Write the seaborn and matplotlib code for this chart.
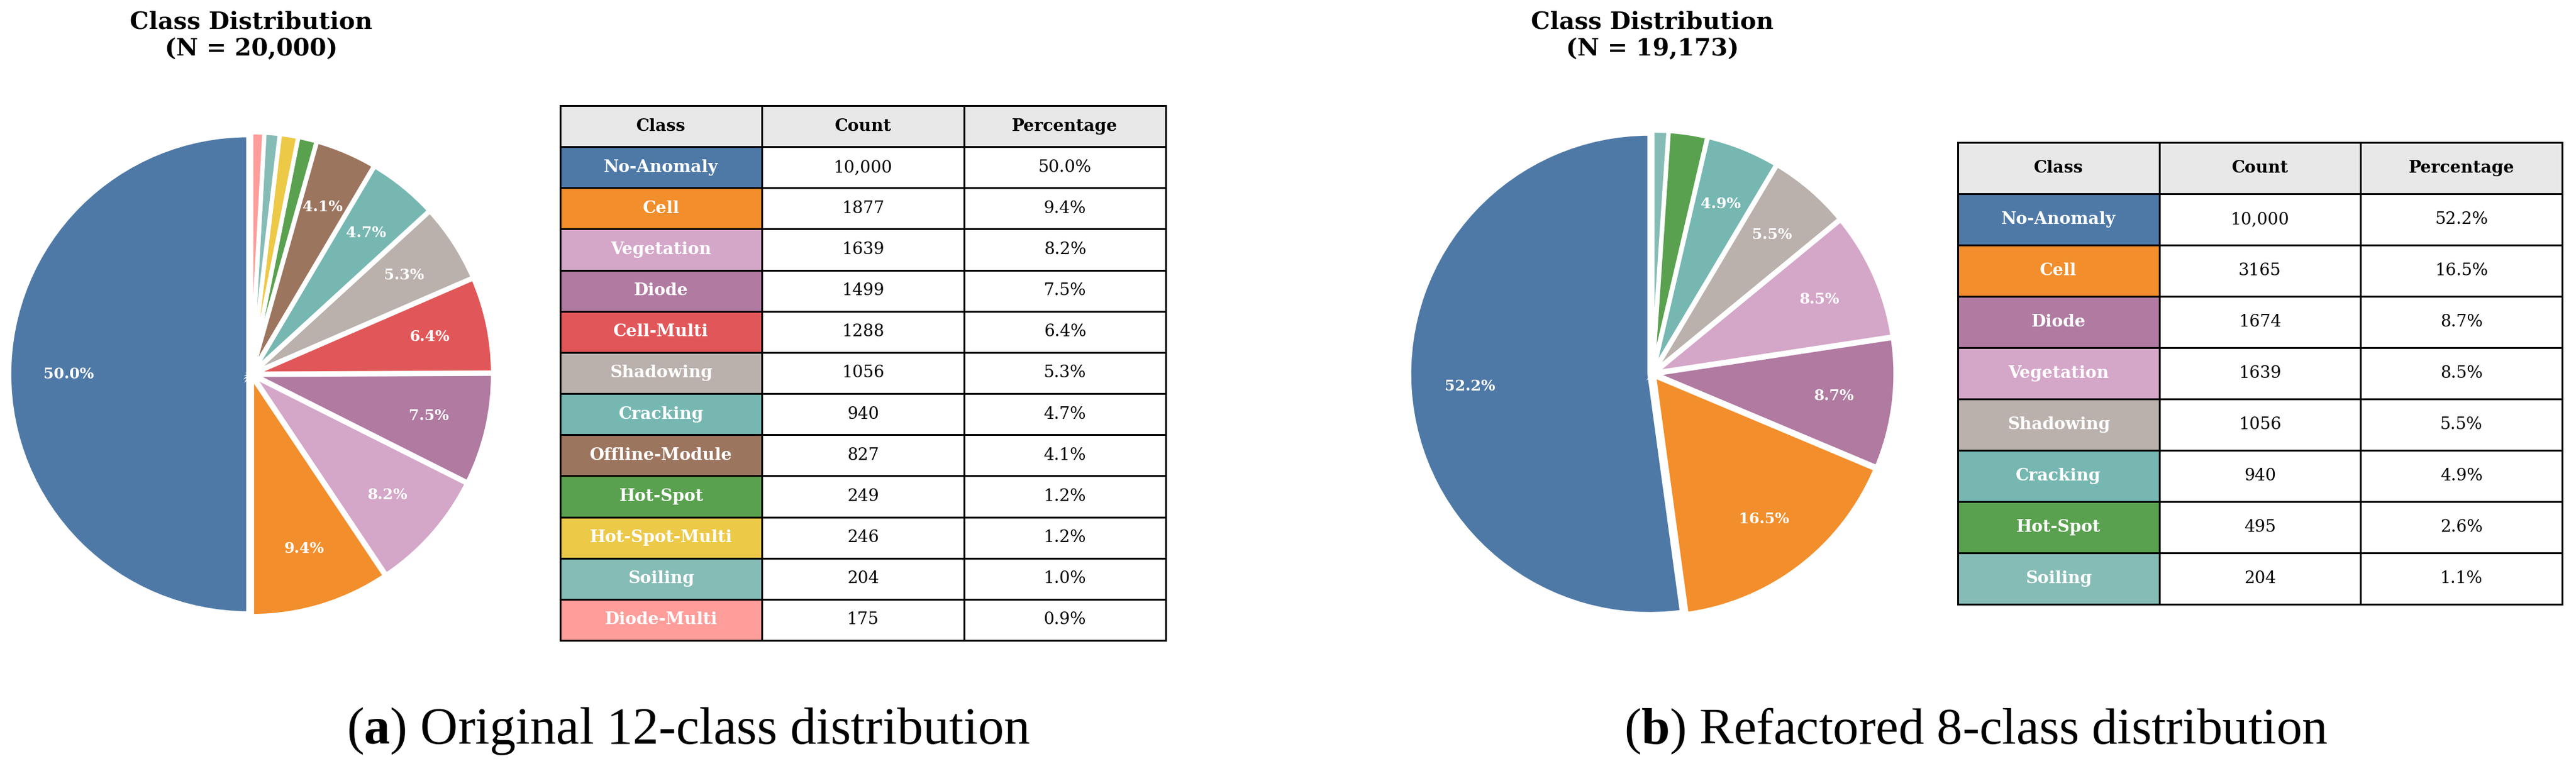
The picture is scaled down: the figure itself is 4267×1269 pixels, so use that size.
import numpy as np
import pandas as pd
import matplotlib
matplotlib.use("Agg")
import matplotlib.pyplot as plt
import seaborn as sns

sns.set_theme(style="white")
plt.rcParams['font.family'] = ['DejaVu Serif']
plt.rcParams['text.color'] = 'black'
plt.rcParams['mathtext.fontset'] = 'custom'
plt.rcParams['mathtext.rm'] = 'Liberation Serif'
plt.rcParams['mathtext.bf'] = 'Liberation Serif:bold'

# original 12 classes
classes_12 = ['No-Anomaly', 'Cell', 'Vegetation', 'Diode', 'Cell-Multi', 'Shadowing',
              'Cracking', 'Offline-Module', 'Hot-Spot', 'Hot-Spot-Multi', 'Soiling', 'Diode-Multi']
counts_12 = [10000, 1877, 1639, 1499, 1288, 1056, 940, 827, 249, 246, 204, 175]

# refactored 8 classes
classes_8 = ['No-Anomaly', 'Cell', 'Diode', 'Vegetation', 'Shadowing', 'Cracking', 'Hot-Spot', 'Soiling']
counts_8 = [10000, 3165, 1674, 1639, 1056, 940, 495, 204]

warna = {
    'No-Anomaly': '#4e79a7', 'Cell': '#f28e2b', 'Vegetation': '#d4a6c8', 'Diode': '#b07aa1',
    'Cell-Multi': '#e15759', 'Shadowing': '#bab0ac', 'Cracking': '#76b7b2',
    'Offline-Module': '#9c755f', 'Hot-Spot': '#59a14f', 'Hot-Spot-Multi': '#edc948',
    'Soiling': '#86bcb6', 'Diode-Multi': '#ff9d9a',
}

W, H = 4267, 1269
fig = plt.figure(figsize=(W / 100, H / 100), dpi=100)


def px_axes(left, top, right, bottom):
    return fig.add_axes([left / W, 1 - bottom / H, (right - left) / W, (bottom - top) / H])


def gambar_pie(cx, cy, unit, classes, counts):
    half = 1.06 * unit
    ax = px_axes(cx - half, cy - half, cx + half, cy + half)
    df = pd.DataFrame({'kelas': classes, 'jumlah': counts})
    colors = [warna[k] for k in df['kelas']]
    ax.pie(df['jumlah'], colors=colors, startangle=90, explode=[0.012] * len(df),
           autopct=lambda p: f'{p:.1f}%' if p > 3 else '', pctdistance=0.75,
           wedgeprops=dict(edgecolor='white', linewidth=5),
           textprops=dict(color='white', fontweight='bold', fontsize=17.8))
    ax.set_xlim(-1.06, 1.06)
    ax.set_ylim(-1.06, 1.06)
    ax.set_aspect('equal')
    ax.axis('off')
    total = sum(counts)
    fig.text(cx / W, 1 - 18 / H, f'Class Distribution\n(N = {total:,})',
             ha='center', va='top', fontsize=28.5, fontweight='bold', linespacing=1.2)


def gambar_tabel(left, top, right, bottom, classes, counts):
    ax = px_axes(left, top, right, bottom)
    ax.axis('off')
    total = sum(counts)
    rows = []
    for k, c in zip(classes, counts):
        cnt = f'{c:,}' if c >= 10000 else str(c)
        rows.append([k, cnt, f'{c / total * 100:.1f}%'])
    tbl = ax.table(cellText=rows, colLabels=['Class', 'Count', 'Percentage'],
                   cellLoc='center', bbox=[0, 0, 1, 1])
    tbl.auto_set_font_size(False)
    for (r, c), cell in tbl.get_celld().items():
        cell.set_edgecolor('black')
        cell.set_linewidth(2.2)
        cell.get_text().set_fontsize(20)
        cell.get_text().set_color('black')
        if r == 0:
            cell.set_facecolor('#e8e8e8')
            cell.get_text().set_fontweight('bold')
        elif c == 0:
            cell.set_facecolor(warna[classes[r - 1]])
            cell.get_text().set_color('white')
            cell.get_text().set_fontweight('bold')
        else:
            cell.set_facecolor('white')


gambar_pie(416, 620, 396, classes_12, counts_12)
gambar_tabel(928, 175, 1931, 1061, classes_12, counts_12)

gambar_pie(2737, 619, 398, classes_8, counts_8)
gambar_tabel(3243, 236, 4244, 1001, classes_8, counts_8)

fig.text(1140 / W, 1 - 1232 / H, r'($\mathbf{a}$) Original 12-class distribution',
         ha='center', va='baseline', fontsize=62, family='Liberation Serif')
fig.text(3273 / W, 1 - 1232 / H, r'($\mathbf{b}$) Refactored 8-class distribution',
         ha='center', va='baseline', fontsize=61, family='Liberation Serif')

fig.savefig('out.png', dpi=100)
